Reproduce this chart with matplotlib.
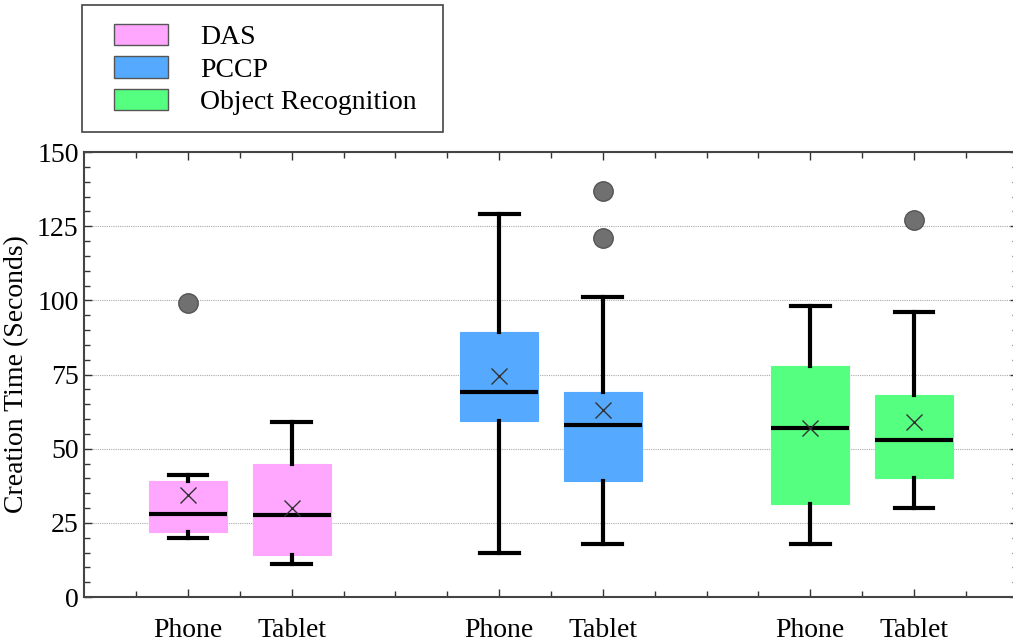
import matplotlib.pyplot as plt
from matplotlib.patches import Patch, Rectangle
from matplotlib.ticker import MultipleLocator, FixedLocator

plt.rcParams['font.family'] = ['Liberation Serif', 'DejaVu Serif']

# Box-plot summary values (seconds) for each app / device
apps = ['DAS', 'PCCP', 'Object Recognition']
devices = ['Phone', 'Tablet']
colors = ['#ffa6ff', '#55aaff', '#55ff7f']

whislo = [[20, 11], [15, 18], [18, 30]]
q1 = [[22, 14], [59.5, 39], [31.5, 40]]
med = [[28, 27.5], [69, 58], [57, 53]]
q3 = [[39, 45], [89.5, 69], [78, 68]]
whishi = [[41, 59], [129, 101], [98, 96]]
mean = [[34.5, 30], [74.5, 63], [57, 59]]
fliers = [[[99], []], [[], [137, 121]], [[], [127]]]

positions = [[2, 4], [8, 10], [14, 16]]

fig = plt.figure(figsize=(10.13, 6.43), dpi=100)
ax = fig.add_axes([0.0832, 0.0715, 0.9215, 0.692])

for i, app in enumerate(apps):
    stats = []
    for j in range(2):
        stats.append(dict(whislo=whislo[i][j], q1=q1[i][j], med=med[i][j],
                          q3=q3[i][j], whishi=whishi[i][j], mean=mean[i][j],
                          fliers=fliers[i][j], label=devices[j]))
    ax.bxp(stats, positions=positions[i], widths=1.5, capwidths=0.75,
           patch_artist=True, showmeans=True, manage_ticks=False,
           boxprops=dict(facecolor=colors[i], edgecolor=colors[i], linewidth=0.8),
           medianprops=dict(color='black', linewidth=3),
           whiskerprops=dict(color='black', linewidth=3),
           capprops=dict(color='black', linewidth=3),
           meanprops=dict(marker='x', markersize=11, markeredgecolor='#333333',
                          markeredgewidth=1.0, linestyle='none'),
           flierprops=dict(marker='o', markersize=14, markerfacecolor='#707070',
                           markeredgecolor='#555555', markeredgewidth=1.0))

ax.set_xlim(0, 18)
ax.set_ylim(0, 150)
ax.set_xticks([p for grp in positions for p in grp])
ax.set_xticklabels(devices * 3)
ax.xaxis.set_minor_locator(FixedLocator(range(1, 18)))
ax.yaxis.set_major_locator(MultipleLocator(25))
ax.yaxis.set_minor_locator(MultipleLocator(5))

ax.tick_params(which='both', direction='in', top=True, right=True, colors='#333333',
               labelcolor='black', labelsize=20)
ax.tick_params(which='major', length=6, width=1)
ax.tick_params(which='minor', length=4, width=1)
ax.tick_params(axis='x', pad=15)
ax.tick_params(axis='y', pad=4)

ax.yaxis.grid(True, linestyle=(0, (1, 1)), color='#aaaaaa', linewidth=0.8)
ax.set_axisbelow(True)
for s in ax.spines.values():
    s.set_color('#444444')
    s.set_linewidth(1.5)

ax.set_ylabel('Creation Time (Seconds)', fontsize=20, labelpad=6)

# legend above the axes, with its own frame
W, H = 1013, 643
handles = [Patch(facecolor=c, edgecolor='#555555', linewidth=1) for c in colors]
fig.legend(handles, apps, loc='upper left', bbox_to_anchor=(114 / W, 1 - 24 / H),
           fontsize=20, frameon=False, borderpad=0, borderaxespad=0,
           handlelength=1.95, handleheight=0.8, handletextpad=1.15, labelspacing=0.22)
fig.patches.append(Rectangle((82 / W, 1 - 132 / H), 361 / W, 127 / H,
                             transform=fig.transFigure, fill=False,
                             edgecolor='#444444', linewidth=1.2))

fig.savefig('out.png', dpi=100)
